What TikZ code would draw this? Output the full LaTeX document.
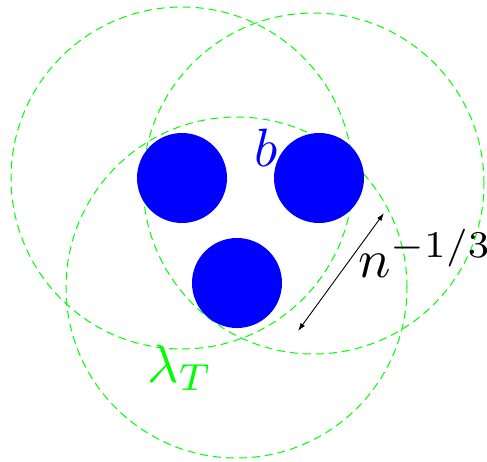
\documentclass[tikz,border=0pt]{standalone}
\usepackage{xcolor}
\usepackage{tikz}
\usetikzlibrary{arrows.meta,positioning}
\definecolor{partblue}{RGB}{0,0,255}
\definecolor{wavegreen}{RGB}{0,255,0}
\tikzset{
  particle/.style={circle, fill=partblue, draw=none, inner sep=0pt, minimum size=45pt},
  wave/.style={draw=wavegreen, line width=0.5pt, dash pattern=on 4pt off 2.5pt},
  spacing/.style={{Latex[length=4pt,width=2.6pt]}-{Latex[length=4pt,width=2.6pt]}, line width=0.45pt},
  bigtext/.style={inner sep=0pt, scale=2.7}
}

\begin{document}
\begin{tikzpicture}[x=0.5pt, y=-0.5pt]
  \useasboundingbox (0,0) rectangle (487,461);
  % thermal wavelength halos
  \draw[wave] (182,178) circle[radius=85.5pt];
  \draw[wave] (313.5,183.5) circle[radius=85.25pt];
  \draw[wave] (236.5,287.5) circle[radius=85.25pt];
  % particles
  \node[particle] (p1) at (182,178) {};
  \node[particle] (p2) at (319,178) {};
  \node[particle] (p3) at (237,283) {};
  % labels
  \node[bigtext, text=partblue, anchor=base] (blab) at (266,166) {$b$};
  \node[bigtext, text=wavegreen, anchor=base west] (lam) at (146,382) {$\lambda_T$};
  \node[bigtext, anchor=base west] (nlab) at (357,277) {$n^{-1/3}$};
  % mean spacing
  \coordinate (s1) at (384,213);
  \coordinate (s2) at (298,331);
  \draw[spacing] (s2) -- (s1);
\end{tikzpicture}
\end{document}
